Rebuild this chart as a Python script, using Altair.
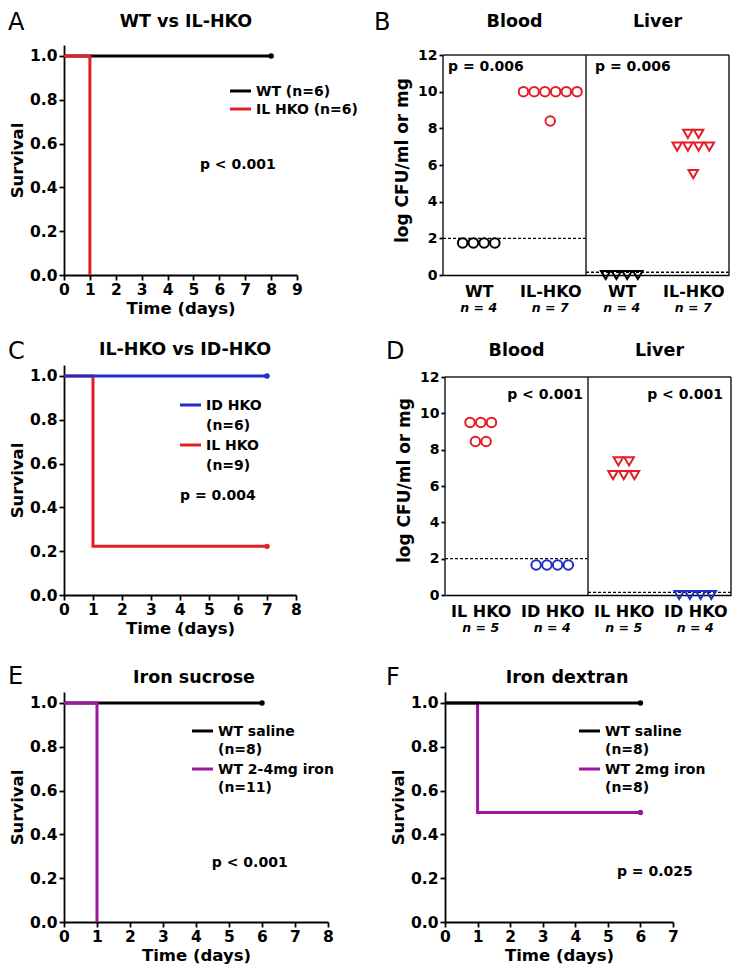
import json
import altair as alt
import pandas as pd

FONT = "DejaVu Sans"
BLACK = "#000000"
RED = "#e31e24"
BLUE = "#1c2fc6"
PURPLE = "#a0169f"

# ---------------- Panel A : WT vs IL-HKO survival ----------------
A_names = ["WT (n=6)", "IL HKO (n=6)"]
A_wt_days = [0, 8]
A_wt_surv = [1.0, 1.0]
A_il_days = [0, 1]
A_il_surv = [1.0, 0.0]
A_p = "p < 0.001"

# ---------------- Panel C : IL-HKO vs ID-HKO survival ----------------
C_names = ["ID HKO\n(n=6)", "IL HKO\n(n=9)"]
C_id_days = [0, 7]
C_id_surv = [1.0, 1.0]
C_il_days = [0, 1, 7]
C_il_surv = [1.0, 0.222, 0.222]
C_p = "p = 0.004"

# ---------------- Panel E : Iron sucrose ----------------
E_names = ["WT saline\n(n=8)", "WT 2-4mg iron\n(n=11)"]
E_sal_days = [0, 6]
E_sal_surv = [1.0, 1.0]
E_fe_days = [0, 1]
E_fe_surv = [1.0, 0.0]
E_p = "p < 0.001"

# ---------------- Panel F : Iron dextran ----------------
F_names = ["WT saline\n(n=8)", "WT 2mg iron\n(n=8)"]
F_sal_days = [0, 6]
F_sal_surv = [1.0, 1.0]
F_fe_days = [0, 1, 6]
F_fe_surv = [1.0, 0.5, 0.5]
F_p = "p = 0.025"

# ---------------- Panel B : bacterial load WT vs IL-HKO ----------------
TISSUES = ["Blood", "Liver"]
B_groups = ["WT", "IL-HKO"]
B_n = [4, 7, 4, 7]
B_blood_wt = [1.75, 1.75, 1.75, 1.75]
B_blood_il = [10.0, 10.0, 10.0, 10.0, 10.0, 10.0, 8.4]
B_liver_wt = [0.0, 0.0, 0.0, 0.0]
B_liver_il = [7.7, 7.7, 7.0, 7.0, 7.0, 7.0, 5.5]
B_limits = [2.0, 0.15]
B_p = ["p = 0.006", "p = 0.006"]

# ---------------- Panel D : bacterial load IL-HKO vs ID-HKO ----------------
D_groups = ["IL HKO", "ID HKO"]
D_n = [5, 4, 5, 4]
D_blood_il = [9.5, 9.5, 9.5, 8.45, 8.45]
D_blood_id = [1.65, 1.65, 1.65, 1.65]
D_liver_il = [7.35, 7.35, 6.6, 6.6, 6.6]
D_liver_id = [0.0, 0.0, 0.0, 0.0]
D_limits = [2.0, 0.15]
D_p = ["p < 0.001", "p < 0.001"]

ONE = pd.DataFrame({"k": [0]})
H = 230


def txt(text, x, y, size, weight="bold", align="left", baseline="middle", style="normal", **kw):
    return alt.Chart(ONE).mark_text(
        text=text, font=FONT, fontSize=size, fontWeight=weight, fontStyle=style,
        align=align, baseline=baseline, color="black", **kw
    ).encode(x=x, y=y)


def km_panel(key, names, colors, curves, order, xmax, W, letter, letter_xy, title, title_xy,
             ptxt, p_xy, leg_x, leg_ys, leg_lh):
    sx, sy, ss = f"day{key}", f"surv{key}", f"ser{key}"
    rows = []
    for name, (d, s) in zip(names, curves):
        for a, b in zip(d, s):
            rows.append({sx: a, sy: b, ss: name})
    df = pd.DataFrame(rows)
    xsc = alt.Scale(domain=[0, xmax], nice=False)
    ysc = alt.Scale(domain=[0, 1.05], nice=False)
    xax = alt.Axis(values=list(range(xmax + 1)), format="d", title="Time (days)",
                   labelFontSize=15.5, titleFontSize=16.5, labelPadding=2, titlePadding=3,
                   tickSize=5, labelFlush=False, labelOverlap=False)
    yax = alt.Axis(values=[0, 0.2, 0.4, 0.6, 0.8, 1.0], format=".1f", title="Survival",
                   labelFontSize=15.5, titleFontSize=16.5, labelPadding=2, titlePadding=4,
                   tickSize=5, labelFlush=False, labelOverlap=False)
    X = alt.X(f"{sx}:Q", scale=xsc, axis=xax)
    Y = alt.Y(f"{sy}:Q", scale=ysc, axis=yax)
    layers = []
    for k in order:
        layers.append(
            alt.Chart(df)
            .transform_filter(alt.FieldEqualPredicate(field=ss, equal=names[k]))
            .mark_line(interpolate="step-after", strokeWidth=3, color=colors[k])
            .encode(x=X, y=Y)
        )
    layers.append(
        alt.Chart(df)
        .transform_joinaggregate(last=f"max({sx})", groupby=[ss])
        .transform_filter(f"datum.{sx} == datum.last && datum.{sy} > 0")
        .mark_circle(size=30, opacity=1)
        .encode(x=X, y=Y, color=alt.Color(f"{ss}:N", scale=alt.Scale(domain=names, range=colors), legend=None))
    )
    for k, name in enumerate(names):
        layers.append(
            alt.Chart(ONE).mark_rule(color=colors[k], strokeWidth=3).encode(
                x=alt.value(leg_x), x2=alt.value(leg_x + 21), y=alt.value(leg_ys[k]))
        )
        layers.append(txt(name, alt.value(leg_x + 26), alt.value(leg_ys[k] + 5), 14,
                          baseline="alphabetic", lineBreak="\n", lineHeight=leg_lh))
    layers.append(txt(ptxt, alt.XDatum(p_xy[0], scale=xsc, axis=xax),
                      alt.YDatum(p_xy[1], scale=ysc, axis=yax), 14))
    layers.append(txt(letter, alt.value(letter_xy[0]), alt.value(letter_xy[1]), 24, weight="normal"))
    layers.append(txt(title, alt.value(title_xy[0]), alt.value(title_xy[1]), 17.5, align="center"))
    return alt.layer(*layers).properties(width=W, height=H)


def cfu_panel(key, groups, ns, colors, vals, limits, ptxts, p_anchor, p_y, W, top,
              letter, letter_xy, tissue_dy):
    tcol, gcol = f"tis{key}", f"grp{key}"
    rows = []
    for cat, v in enumerate(vals):
        for val in v:
            rows.append({"cat": cat, "val": val, tcol: TISSUES[cat // 2], gcol: groups[cat % 2]})
    df = pd.DataFrame(rows)
    ymax = 12 * H / (H - top)
    xsc = alt.Scale(domain=[0, 4], nice=False, zero=False)
    ysc = alt.Scale(domain=[0, ymax], nice=False)
    labels = groups * 2
    xax = alt.Axis(values=[0.5, 1.5, 2.5, 3.5], labelExpr=f"{json.dumps(labels)}[floor(datum.value)]",
                   ticks=False, title=None, labelFontSize=16, labelPadding=8,
                   labelFlush=False, labelOverlap=False, domainWidth=1.5)
    yax = alt.Axis(values=list(range(0, 13, 2)), domain=False, title="log CFU/ml or mg",
                   labelFontSize=14, titleFontSize=17, tickSize=4, labelPadding=2, titlePadding=6,
                   labelFlush=False, labelOverlap=False)
    layers = []
    # detection limits
    lim = pd.DataFrame({"ti": [0, 1], "lim": limits})
    layers.append(
        alt.Chart(lim).transform_calculate(x0="2 * datum.ti", x1="2 * datum.ti + 2")
        .mark_rule(strokeDash=[3, 2], strokeWidth=1.3, color="black")
        .encode(x=alt.X("x0:Q", scale=xsc, axis=xax), x2="x1:Q", y=alt.Y("lim:Q", scale=ysc, axis=yax))
    )

    def XD(v):
        return alt.XDatum(v, scale=xsc, axis=xax)

    def YD(v):
        return alt.YDatum(v, scale=ysc, axis=yax)

    # frame
    frame = [
        dict(x=XD(0), x2=alt.X2Datum(4), y=YD(12)),
        dict(x=XD(0), y=YD(0), y2=alt.Y2Datum(12)),
        dict(x=XD(2), y=YD(0), y2=alt.Y2Datum(12)),
        dict(x=XD(4), y=YD(0), y2=alt.Y2Datum(12)),
    ]
    for enc in frame:
        layers.append(alt.Chart(ONE).mark_rule(strokeWidth=1.5, color="#222222").encode(**enc))
    # points
    layers.append(
        alt.Chart(df)
        .transform_window(rn="row_number()", groupby=["cat", "val"])
        .transform_joinaggregate(cnt="count()", groupby=["cat", "val"])
        .transform_calculate(xp="datum.cat + 0.5 + (datum.rn - (datum.cnt + 1) / 2) * 0.15")
        .mark_point(filled=False, strokeWidth=2, size=90, opacity=1)
        .encode(
            x=alt.X("xp:Q", scale=xsc, axis=xax),
            y=alt.Y("val:Q", scale=ysc, axis=yax),
            color=alt.Color(f"{gcol}:N", scale=alt.Scale(domain=groups, range=colors), legend=None),
            shape=alt.Shape(f"{tcol}:N", scale=alt.Scale(domain=TISSUES, range=["circle", "triangle-down"]), legend=None),
        )
    )
    # n labels
    ndf = pd.DataFrame({"cat": [0, 1, 2, 3], "nt": [f"n = {n}" for n in ns]})
    layers.append(
        alt.Chart(ndf).transform_calculate(xc="datum.cat + 0.5")
        .mark_text(font=FONT, fontSize=12.5, fontWeight="bold", fontStyle="italic", color="black", baseline="middle")
        .encode(x=alt.X("xc:Q", scale=xsc, axis=xax), y=alt.value(H + 33), text="nt:N")
    )
    # tissue titles
    tdf = pd.DataFrame({"ti": [0, 1], "tt": TISSUES})
    layers.append(
        alt.Chart(tdf).transform_calculate(xc="2 * datum.ti + 1")
        .mark_text(font=FONT, fontSize=17.5, fontWeight="bold", color="black", baseline="middle")
        .encode(x=alt.X("xc:Q", scale=xsc, axis=xax), y=alt.value(top + tissue_dy), text="tt:N")
    )
    for i in range(2):
        ax, al, dx = p_anchor[i]
        layers.append(txt(ptxts[i], XD(ax), YD(p_y), 14, align=al, dx=dx))
    layers.append(txt(letter, alt.value(letter_xy[0]), alt.value(letter_xy[1]), 24, weight="normal"))
    return alt.layer(*layers).properties(width=W, height=H)


A = km_panel("A", A_names, [BLACK, RED], [(A_wt_days, A_wt_surv), (A_il_days, A_il_surv)], [0, 1],
             9, 233, "A", (-56, -22), "WT vs IL-HKO", (122, -23), A_p, (5.25, 0.50),
             166, [46, 64], 18)
C = km_panel("C", C_names, [BLUE, RED], [(C_id_days, C_id_surv), (C_il_days, C_il_surv)], [1, 0],
             8, 232, "C", (-56, -13), "IL-HKO vs ID-HKO", (121, -15), C_p, (4.0, 0.45),
             116, [40, 80], 20)
E = km_panel("E", E_names, [BLACK, PURPLE], [(E_sal_days, E_sal_surv), (E_fe_days, E_fe_surv)], [0, 1],
             8, 264, "E", (-56, -15), "Iron sucrose", (130, -14), E_p, (4.48, 0.27),
             128, [39, 77], 18)
F = km_panel("F", F_names, [BLACK, PURPLE], [(F_sal_days, F_sal_surv), (F_fe_days, F_fe_surv)], [1, 0],
             7, 228, "F", (-59, -14), "Iron dextran", (122, -14), F_p, (5.28, 0.23),
             134, [39, 77], 18)

B = cfu_panel("B", B_groups, B_n, [BLACK, RED], [B_blood_wt, B_blood_il, B_liver_wt, B_liver_il],
              B_limits, B_p, [(0, "left", 5), (2, "left", 9)], 11.35, 286, 10, "B", (-69, -22), -33)
D = cfu_panel("D", D_groups, D_n, [RED, BLUE], [D_blood_il, D_blood_id, D_liver_il, D_liver_id],
              D_limits, D_p, [(2, "right", -5), (4, "right", -8)], 11.0, 286, 12, "D", (-59, -13), -26)

IND = dict(color="independent", shape="independent")
row1 = alt.hconcat(A, B, spacing=16).resolve_scale(**IND)
row2 = alt.hconcat(C, D, spacing=84).resolve_scale(**IND)
row3 = alt.hconcat(E, F, spacing=52).resolve_scale(**IND)
lower = alt.vconcat(row2, row3, spacing=28).resolve_scale(**IND)

chart = alt.vconcat(row1, lower, spacing=23).resolve_scale(**IND).properties(
    padding={"left": 0, "top": 3, "right": 0, "bottom": 0}
).configure_view(stroke=None).configure_axis(
    grid=False, domainColor="black", tickColor="black", labelColor="black", titleColor="black",
    labelFont=FONT, titleFont=FONT, labelFontWeight="bold", titleFontWeight="bold",
    domainWidth=1.8, tickWidth=1.8,
)

chart.save("out.html", embed_options={"renderer": "svg", "actions": False})
